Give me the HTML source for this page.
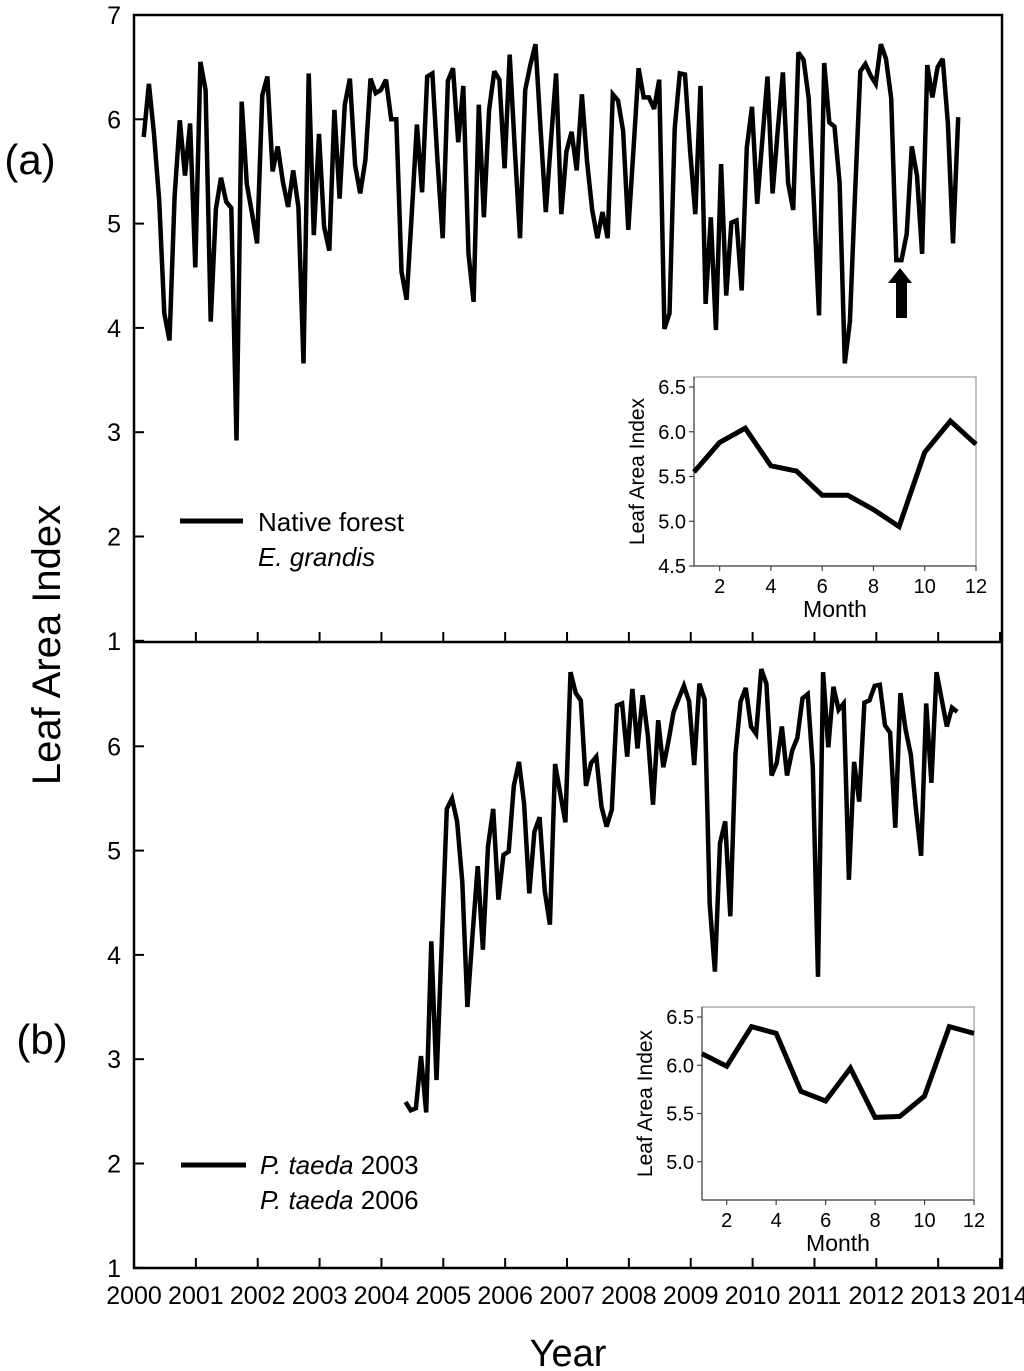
<!DOCTYPE html>
<html><head><meta charset="utf-8"><style>
html,body{margin:0;padding:0;background:#fff;}
svg{display:block;font-family:"Liberation Sans",Arial,sans-serif;}
</style></head><body>
<svg id="chart" width="1024" height="1371" viewBox="0 0 1024 1371" xmlns="http://www.w3.org/2000/svg">
<rect x="0" y="0" width="1024" height="1371" fill="#fff"/>
<g id="frame">
<rect x="134" y="15" width="868" height="1253" fill="none" stroke="#000" stroke-width="2.5"/>
<line x1="134" y1="642" x2="1002" y2="642" stroke="#000" stroke-width="2.5"/>
</g>
<g id="axes" style="font-size:25px" fill="#000"></g>
<g id="series"></g>
<g id="insets"></g>
<text x="30" y="174" style="font-size:42px" text-anchor="middle">(a)</text>
<text x="42" y="1054" style="font-size:42px" text-anchor="middle">(b)</text>
<text transform="translate(60,645) rotate(-90)" style="font-size:40px" text-anchor="middle">Leaf Area Index</text>
<text x="568" y="1366" style="font-size:38px" text-anchor="middle">Year</text>
<g>
<line x1="180" y1="521" x2="243" y2="521" stroke="#000" stroke-width="5"/>
<text x="258" y="531" style="font-size:26px">Native forest</text>
<text x="258" y="566" style="font-size:26px" font-style="italic">E. grandis</text>
</g>
<g>
<line x1="181" y1="1165" x2="246" y2="1165" stroke="#000" stroke-width="5"/>
<text x="260" y="1174" style="font-size:26px"><tspan font-style="italic">P. taeda</tspan> 2003</text>
<text x="260" y="1209" style="font-size:26px"><tspan font-style="italic">P. taeda</tspan> 2006</text>
</g>
<polygon points="900,268 912,283 907,283 907,318 896,318 896,283 888,283" fill="#000"/>
</svg>
<script>
const years = [2000,2001,2002,2003,2004,2005,2006,2007,2008,2009,2010,2011,2012,2013,2014];
const yTicksA = [7,6,5,4,3,2,1];
const yTicksB = [6,5,4,3,2,1];
const startA = 2000.157;
const laiA = [5.83,6.34,5.86,5.22,4.14,3.88,5.26,5.99,5.46,5.96,4.58,6.55,6.28,4.06,5.14,5.44,5.21,5.15,2.92,6.17,5.38,5.1,4.81,6.23,6.41,5.50,5.74,5.40,5.16,5.51,5.16,3.66,6.44,4.89,5.86,4.97,4.74,6.09,5.24,6.14,6.39,5.56,5.29,5.61,6.39,6.25,6.28,6.38,6.00,6.00,4.54,4.27,5.1,5.95,
5.30,6.41,6.44,5.6,4.86,6.37,6.49,5.78,6.32,4.71,4.25,6.14,5.06,6.09,6.46,6.38,5.53,6.62,5.7,4.86,6.28,6.52,6.72,5.9,5.11,5.8,6.44,5.09,5.69,5.88,5.51,6.24,5.6,5.13,4.86,5.11,4.86,6.24,6.18,5.89,4.94,5.7,6.49,6.21,6.21,6.10,6.38,3.99,4.14,5.91,6.44,6.43,5.7,5.09,6.32,4.23,5.06,3.98,
5.57,4.31,5.01,5.03,4.36,5.73,6.12,5.19,5.8,6.41,5.29,5.9,6.45,5.39,5.13,6.64,6.57,6.20,5.2,4.12,6.54,5.97,5.93,5.39,3.66,4.06,5.3,6.46,6.53,6.42,6.34,6.72,6.58,6.20,4.65,4.65,4.90,5.74,5.46,4.71,6.52,6.21,6.50,6.58,5.96,4.81,6.02];
const startB = 2004.39;
const laiB = [2.59,2.51,2.53,3.03,2.49,4.13,2.80,4.1,5.40,5.50,5.28,4.7,3.50,4.2,4.85,4.05,5.04,5.40,4.53,4.96,4.99,5.62,5.85,5.45,4.59,5.18,5.32,4.61,4.29,5.83,5.55,5.27,6.71,6.51,6.44,5.62,5.84,5.90,5.42,5.23,5.39,6.39,6.41,5.90,6.55,5.98,6.49,6.1,5.44,6.25,5.80,6.05,6.33,6.46,6.58,6.43,5.82,6.60,6.45,4.49,3.84,5.07,5.28,4.37,5.93,6.43,6.56,6.19,6.12,6.74,6.60,5.72,5.84,6.19,5.72,5.96,6.08,6.46,6.50,5.8,3.79,6.71,5.99,6.57,6.35,6.41,4.72,5.85,5.47,6.42,6.44,6.58,6.59,6.20,6.13,5.22,6.51,6.16,5.92,5.4,4.95,6.41,5.65,6.71,6.45,6.19,6.37,6.33];
const months = [1,2,3,4,5,6,7,8,9,10,11,12];
const monthTicks = [2,4,6,8,10,12];
const insetATicks = [6.5,6.0,5.5,5.0,4.5];
const insetBTicks = [6.5,6.0,5.5,5.0];
const monthlyA = [5.55,5.88,6.04,5.62,5.56,5.29,5.29,5.13,4.94,5.77,6.12,5.86];
const monthlyB = [6.12,5.99,6.40,6.33,5.73,5.63,5.97,5.46,5.47,5.68,6.40,6.33];

const NS = "http://www.w3.org/2000/svg";
function mk(tag, attrs, parent){const e=document.createElementNS(NS,tag);for(const k in attrs)e.setAttribute(k,attrs[k]);parent.appendChild(e);return e;}
const xS = y => 134 + (y-2000)*61.86;
const yA = v => 15 + (7-v)*104.3;
const yB = v => 642 + (7-v)*104.3;
const axes = document.getElementById('axes');
years.forEach(yr=>{
  const x = xS(yr);
  [[642,632],[1268,1258]].forEach(p=>{
    const t = mk('line',{x1:x,y1:p[0],x2:x,y2:p[1],stroke:'#000','stroke-width':2},axes);
    
    
  });
  const l = mk('text',{x:x,y:1304,'text-anchor':'middle'},axes);
  l.textContent = yr;
  
  
});
function yTicks(arr, sc, nm){
  arr.forEach(v=>{
    const y = sc(v);
    const t = mk('line',{x1:134,y1:y,x2:144,y2:y,stroke:'#000','stroke-width':2},axes);
    
    
    const l = mk('text',{x:121,y:y+9,'text-anchor':'end'},axes);
    l.textContent = v;
    
    
  });
}
yTicks(yTicksA, yA, 'y-a');
yTicks(yTicksB, yB, 'y-b');
const series = document.getElementById('series');
function line(vals, start, sc, nm){
  const pts = vals.map((v,i)=>xS(start+i/12).toFixed(1)+','+sc(v).toFixed(1)).join(' ');
  const p = mk('polyline',{points:pts,fill:'none',stroke:'#000','stroke-width':4.5,'stroke-linejoin':'miter','stroke-miterlimit':3},series);
  
  
}
line(laiA, startA, yA, 'native-forest-line');
line(laiB, startB, yB, 'p-taeda-line');

const insets = document.getElementById('insets');
function inset(cfg){
  const g = mk('g',{},insets);
  
  
  const xm = m => cfg.x0 + (m-1)*(cfg.x1-cfg.x0)/11;
  const yv = v => cfg.y65 + (6.5-v)*cfg.k;
  const r = mk('rect',{x:cfg.x0,y:cfg.top,width:cfg.x1-cfg.x0,height:cfg.bot-cfg.top,fill:'#fff',stroke:'#999','stroke-width':1.2},g);
  
  
  mk('line',{x1:cfg.x0,y1:cfg.top,x2:cfg.x0,y2:cfg.bot,stroke:'#444','stroke-width':1.2},g);
  mk('line',{x1:cfg.x0,y1:cfg.bot,x2:cfg.x1,y2:cfg.bot,stroke:'#444','stroke-width':1.2},g);
  cfg.ticks.forEach(v=>{
    const y=yv(v);
    const t=mk('line',{x1:cfg.x0-5,y1:y,x2:cfg.x0,y2:y,stroke:'#444','stroke-width':1.2},g);
    
    
    const l=mk('text',{x:cfg.x0-8,y:y+7,'text-anchor':'end',style:'font-size:20px'},g);
    l.textContent=v.toFixed(1);
    
    
  });
  monthTicks.forEach(m=>{
    const x=xm(m);
    const t=mk('line',{x1:x,y1:cfg.bot,x2:x,y2:cfg.bot+5,stroke:'#444','stroke-width':1.2},g);
    
    
    const l=mk('text',{x:x,y:cfg.bot+27,'text-anchor':'middle',style:'font-size:20px'},g);
    l.textContent=m;
    
    
  });
  const mt=mk('text',{x:(cfg.x0+cfg.x1)/2,y:cfg.bot+51,'text-anchor':'middle',style:'font-size:23px'},g);
  mt.textContent='Month';
  
  
  const yt=mk('text',{transform:'translate('+(cfg.x0-50)+','+((cfg.top+cfg.bot)/2)+') rotate(-90)','text-anchor':'middle',style:'font-size:21px'},g);
  yt.textContent='Leaf Area Index';
  
  
  const pts=cfg.vals.map((v,i)=>xm(months[i]).toFixed(1)+','+yv(v).toFixed(1)).join(' ');
  const p=mk('polyline',{points:pts,fill:'none',stroke:'#000','stroke-width':5},g);
  
  
}
inset({name:'inset-a',x0:694,x1:976,top:377,bot:566,y65:387,k:89.5,ticks:insetATicks,vals:monthlyA});
inset({name:'inset-b',x0:702,x1:974,top:1007,bot:1200,y65:1017,k:96.5,ticks:insetBTicks,vals:monthlyB});
</script>
</body></html>
